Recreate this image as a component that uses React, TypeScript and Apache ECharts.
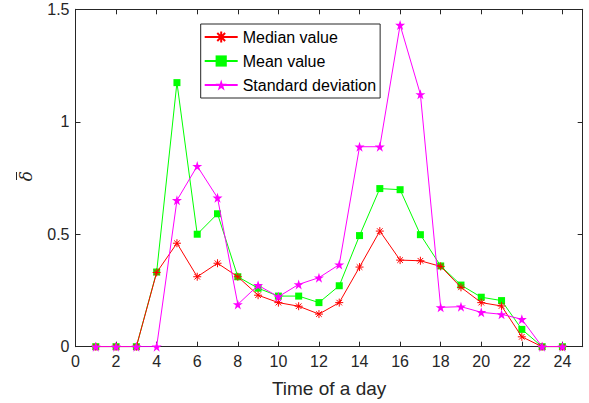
import React, { useEffect, useRef } from "react";
import * as echarts from "echarts";

const hours = [1, 2, 3, 4, 5, 6, 7, 8, 9, 10, 11, 12, 13, 14, 15, 16, 17, 18, 19, 20, 21, 22, 23, 24];
const medianValues = [0, 0, 0, 0.33, 0.46, 0.311, 0.371, 0.311, 0.229, 0.196, 0.18, 0.145, 0.196, 0.354, 0.514, 0.385, 0.382, 0.357, 0.264, 0.196, 0.181, 0.044, 0, 0];
const meanValues = [0, 0, 0, 0.332, 1.174, 0.5, 0.591, 0.311, 0.26, 0.225, 0.225, 0.196, 0.271, 0.494, 0.703, 0.698, 0.498, 0.359, 0.274, 0.22, 0.205, 0.077, 0, 0];
const stdValues = [0, 0, 0, 0, 0.651, 0.803, 0.662, 0.188, 0.273, 0.222, 0.277, 0.307, 0.365, 0.889, 0.889, 1.43, 1.122, 0.175, 0.178, 0.153, 0.144, 0.122, 0, 0];
const seriesNames = ["Median value", "Mean value", "Standard deviation"];
const xTicks = [0, 2, 4, 6, 8, 10, 12, 14, 16, 18, 20, 22, 24];

const FONT = "'Liberation Sans', Arial, sans-serif";
const AX = "#262626";

function starPath(): string {
  const pts: string[] = [];
  for (let k = 0; k < 10; k++) {
    const r = k % 2 === 0 ? 10 : 3.82;
    const a = (-90 + k * 36) * Math.PI / 180;
    pts.push(`${(10 + r * Math.cos(a)).toFixed(2)},${(10 + r * Math.sin(a)).toFixed(2)}`);
  }
  return "path://M" + pts.join(" L") + " Z";
}
const asteriskPath = "path://M0,5 L10,5 M5,0 L5,10 M1.5,1.5 L8.5,8.5 M1.5,8.5 L8.5,1.5";

export default function App() {
  const ref = useRef<HTMLDivElement>(null);
  useEffect(() => {
    const chart = echarts.init(ref.current!, null, { renderer: "svg" });
    const pairs = (vals: number[]) => hours.map((h, i) => [h, vals[i]]);
    const xCommon = {
      type: "value" as const,
      min: 0,
      max: 25,
      interval: 2,
      axisLine: { show: true, onZero: false, lineStyle: { color: AX, width: 1 } },
      axisTick: { show: true, inside: true, length: 5, lineStyle: { color: AX } },
      splitLine: { show: false },
    };
    const yCommon = {
      type: "value" as const,
      min: 0,
      max: 1.5,
      interval: 0.5,
      axisLine: { show: true, onZero: false, lineStyle: { color: AX, width: 1 } },
      axisTick: { show: true, inside: true, length: 5, lineStyle: { color: AX } },
      splitLine: { show: false },
    };
    chart.setOption({
      animation: false,
      backgroundColor: "#ffffff",
      grid: { left: 75.5, right: 6.3, top: 9.3, bottom: 56.3, containLabel: false },
      xAxis: [
        {
          ...xCommon,
          position: "bottom",
          name: "Time of a day",
          nameLocation: "middle",
          nameGap: 32,
          nameTextStyle: { fontFamily: FONT, fontSize: 19, color: AX },
          axisLabel: {
            fontFamily: FONT,
            fontSize: 16,
            color: AX,
            margin: 7,
            formatter: (v: number) => (xTicks.includes(v) ? String(v) : ""),
          },
        },
        { ...xCommon, position: "top", axisLabel: { show: false } },
      ],
      yAxis: [
        {
          ...yCommon,
          position: "left",
          axisLabel: { fontFamily: FONT, fontSize: 16, color: AX, margin: 6 },
        },
        { ...yCommon, position: "right", axisLabel: { show: false } },
      ],
      graphic: [
        {
          type: "text",
          x: 26,
          y: 176,
          rotation: Math.PI / 2,
          style: {
            text: "δ",
            fontFamily: "'DejaVu Serif', serif",
            fontStyle: "italic",
            fontSize: 17,
            fill: AX,
            align: "center",
            verticalAlign: "middle",
          },
        },
        {
          type: "line",
          shape: { x1: 16.5, y1: 172, x2: 16.5, y2: 180 },
          style: { stroke: AX, lineWidth: 1 },
        },
      ],
      legend: {
        orient: "vertical",
        left: 200.7,
        top: 24,
        backgroundColor: "#ffffff",
        borderColor: AX,
        borderWidth: 1,
        borderRadius: 0,
        padding: [5, 4, 5, 3],
        itemGap: 8,
        itemWidth: 33,
        itemHeight: 14,
        textStyle: { fontFamily: FONT, fontSize: 16, color: "#000" },
        data: seriesNames,
      },
      series: [
        {
          name: seriesNames[0],
          type: "line",
          data: pairs(medianValues),
          symbol: asteriskPath,
          symbolSize: 8,
          lineStyle: { color: "#ff0000", width: 1 },
          itemStyle: { color: "#ff0000", borderColor: "#ff0000", borderWidth: 1 },
          z: 3,
        },
        {
          name: seriesNames[1],
          type: "line",
          data: pairs(meanValues),
          symbol: "rect",
          symbolSize: 7,
          lineStyle: { color: "#00ff00", width: 1 },
          itemStyle: { color: "#00ff00", borderWidth: 0 },
          z: 2,
        },
        {
          name: seriesNames[2],
          type: "line",
          data: pairs(stdValues),
          symbol: starPath(),
          symbolSize: 10,
          lineStyle: { color: "#ff00ff", width: 1 },
          itemStyle: { color: "#ff00ff", borderWidth: 0 },
          z: 4,
        },
      ],
    });
    return () => chart.dispose();
  }, []);
  return <div ref={ref} style={{ width: 589, height: 403, position: "absolute", left: 0, top: 0 }} />;
}
